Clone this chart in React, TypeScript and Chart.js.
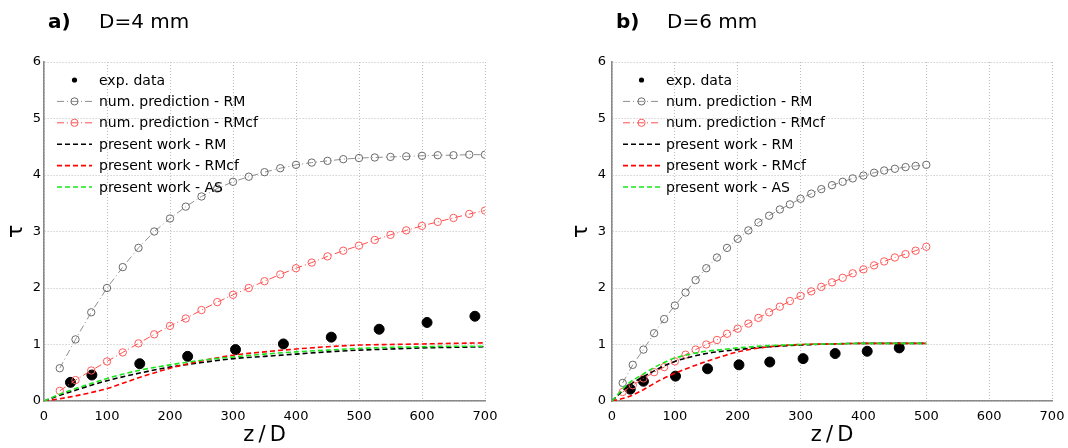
import React, { useEffect, useRef } from 'react';
import { Chart, registerables } from 'chart.js';

Chart.register(...registerables);

const FONT = "'DejaVu Sans', 'Verdana', sans-serif";

const LEGEND_LABELS = [
  'exp. data',
  'num. prediction - RM',
  'num. prediction - RMcf',
  'present work - RM',
  'present work - RMcf',
  'present work - AS',
];

const X_TICKS_MAX = 700;
const Y_TICKS_MAX = 6;

// ---------- Panel a) D=4 mm ----------
const A_EXP_X = [42, 76, 152, 228, 304, 380, 456, 532, 608, 684];
const A_EXP_Y = [0.33, 0.46, 0.66, 0.79, 0.91, 1.01, 1.13, 1.27, 1.39, 1.5];

const A_NUM_X = [25, 50, 75, 100, 125, 150, 175, 200, 225, 250, 275, 300, 325, 350, 375, 400, 425, 450, 475, 500, 525, 550, 575, 600, 625, 650, 675, 700];
const A_NUM_RM = [0.58, 1.09, 1.57, 2.0, 2.37, 2.71, 3.0, 3.23, 3.44, 3.62, 3.76, 3.88, 3.97, 4.05, 4.12, 4.18, 4.22, 4.25, 4.28, 4.3, 4.31, 4.32, 4.33, 4.34, 4.35, 4.35, 4.36, 4.36];
const A_NUM_RMCF = [0.18, 0.37, 0.54, 0.7, 0.86, 1.02, 1.18, 1.33, 1.46, 1.61, 1.75, 1.88, 2.0, 2.12, 2.24, 2.35, 2.45, 2.56, 2.66, 2.75, 2.85, 2.94, 3.02, 3.1, 3.17, 3.24, 3.31, 3.37];

const A_PW_X = [0, 25, 50, 75, 100, 150, 200, 250, 300, 350, 400, 450, 500, 550, 600, 650, 700];
const A_PW_RM = [0, 0.1, 0.19, 0.28, 0.36, 0.49, 0.6, 0.68, 0.75, 0.79, 0.83, 0.87, 0.9, 0.92, 0.94, 0.95, 0.96];
const A_PW_RMCF = [0, 0.04, 0.09, 0.15, 0.22, 0.41, 0.58, 0.71, 0.81, 0.87, 0.92, 0.96, 0.99, 1.0, 1.01, 1.02, 1.03];
const A_PW_AS = [0, 0.12, 0.22, 0.31, 0.4, 0.54, 0.64, 0.72, 0.78, 0.83, 0.87, 0.9, 0.93, 0.95, 0.96, 0.97, 0.97];

// ---------- Panel b) D=6 mm ----------
const B_EXP_X = [29, 50, 101, 152, 202, 251, 304, 355, 406, 457];
const B_EXP_Y = [0.21, 0.35, 0.44, 0.57, 0.64, 0.69, 0.75, 0.84, 0.88, 0.94];

const B_NUM_X = [17, 33, 50, 67, 83, 100, 117, 133, 150, 167, 183, 200, 217, 233, 250, 267, 283, 300, 317, 333, 350, 367, 383, 400, 417, 433, 450, 467, 483, 500];
const B_NUM_RM = [0.32, 0.64, 0.91, 1.2, 1.45, 1.69, 1.92, 2.14, 2.35, 2.54, 2.71, 2.87, 3.02, 3.16, 3.28, 3.39, 3.48, 3.58, 3.67, 3.75, 3.82, 3.88, 3.94, 3.99, 4.04, 4.08, 4.11, 4.14, 4.16, 4.18];
const B_NUM_RMCF = [0.16, 0.28, 0.4, 0.51, 0.6, 0.7, 0.82, 0.91, 1.0, 1.08, 1.19, 1.28, 1.37, 1.47, 1.57, 1.67, 1.77, 1.86, 1.94, 2.02, 2.1, 2.18, 2.26, 2.33, 2.4, 2.47, 2.54, 2.6, 2.66, 2.73];

const B_PW_X = [0, 25, 50, 75, 100, 125, 150, 175, 200, 250, 300, 350, 400, 450, 500];
const B_PW_RM = [0, 0.26, 0.43, 0.58, 0.7, 0.78, 0.84, 0.88, 0.91, 0.96, 0.99, 1.01, 1.02, 1.02, 1.02];
const B_PW_RMCF = [0, 0.07, 0.2, 0.36, 0.49, 0.6, 0.7, 0.79, 0.87, 0.96, 1.0, 1.01, 1.02, 1.02, 1.02];
const B_PW_AS = [0, 0.3, 0.48, 0.64, 0.76, 0.83, 0.88, 0.91, 0.94, 0.98, 1.0, 1.01, 1.02, 1.02, 1.02];

const zip = (xs: number[], ys: number[]) => xs.map((x, i) => ({ x, y: ys[i] }));

type PanelData = {
  expX: number[]; expY: number[];
  numX: number[]; numRM: number[]; numRMcf: number[];
  pwX: number[]; pwRM: number[]; pwRMcf: number[]; pwAS: number[];
};

type PanelLayout = {
  left: number; width: number; yWidth: number; padRight: number;
  yTickPad: number; tauPad: number;
  label: string; title: string;
  symX0: number; symX1: number; textX: number;
};

function buildDatasets(d: PanelData): any[] {
  return [
    {
      data: zip(d.expX, d.expY), showLine: false, order: 6,
      pointRadius: 5, pointStyle: 'circle', pointBackgroundColor: '#000', pointBorderColor: '#000',
      pointBorderWidth: 1, borderColor: '#000', _legendDot: 2.6,
    },
    {
      data: zip(d.numX, d.numRM), order: 5,
      borderColor: '#8f8f8f', borderWidth: 1, borderDash: [7, 3, 1, 3],
      pointRadius: 3.7, pointBorderColor: '#6a6a6a', pointBackgroundColor: 'rgba(0,0,0,0)', pointBorderWidth: 1,
      _legendCircle: 3.6,
    },
    {
      data: zip(d.numX, d.numRMcf), order: 4,
      borderColor: '#ff4d4d', borderWidth: 1, borderDash: [7, 3, 1, 3],
      pointRadius: 3.7, pointBorderColor: '#ff5a5a', pointBackgroundColor: 'rgba(0,0,0,0)', pointBorderWidth: 1,
      _legendCircle: 3.6,
    },
    {
      data: zip(d.pwX, d.pwRM), order: 3, borderColor: '#000', borderWidth: 1.6, borderDash: [5, 3],
      pointRadius: 0, cubicInterpolationMode: 'monotone',
    },
    {
      data: zip(d.pwX, d.pwRMcf), order: 2, borderColor: '#ff0000', borderWidth: 1.6, borderDash: [5, 3],
      pointRadius: 0, cubicInterpolationMode: 'monotone',
    },
    {
      data: zip(d.pwX, d.pwAS), order: 1, borderColor: '#19e619', borderWidth: 1.6, borderDash: [5, 3],
      pointRadius: 0, cubicInterpolationMode: 'monotone',
    },
  ];
}

function makePlugins(L: PanelLayout) {
  return [
    {
      id: 'panelDecor',
      afterDraw(chart: any) {
        const { ctx, chartArea } = chart;
        ctx.save();
        // title
        ctx.fillStyle = '#000';
        ctx.textBaseline = 'alphabetic';
        ctx.textAlign = 'left';
        ctx.font = `bold 20px ${FONT}`;
        ctx.fillText(L.label, chartArea.left + 4, 28);
        ctx.font = `20px ${FONT}`;
        ctx.fillText(L.title, chartArea.left + 55, 28);
        // legend
        const x0 = chartArea.left + L.symX0;
        const x1 = chartArea.left + L.symX1;
        const xm = (x0 + x1) / 2;
        chart.data.datasets.forEach((ds: any, i: number) => {
          const y = chartArea.top + 18 + i * 21.4;
          if (ds.showLine !== false) {
            ctx.save();
            ctx.strokeStyle = ds.borderColor;
            ctx.lineWidth = ds.borderWidth;
            ctx.setLineDash(ds.borderDash || []);
            ctx.beginPath();
            ctx.moveTo(x0, y);
            ctx.lineTo(x1, y);
            ctx.stroke();
            ctx.restore();
          }
          if (ds._legendDot) {
            ctx.beginPath();
            ctx.fillStyle = ds.pointBackgroundColor;
            ctx.arc(xm, y, ds._legendDot, 0, Math.PI * 2);
            ctx.fill();
          }
          if (ds._legendCircle) {
            ctx.beginPath();
            ctx.setLineDash([]);
            ctx.lineWidth = 1;
            ctx.strokeStyle = ds.pointBorderColor;
            ctx.arc(xm, y, ds._legendCircle, 0, Math.PI * 2);
            ctx.stroke();
          }
          ctx.fillStyle = '#000';
          ctx.font = `14px ${FONT}`;
          ctx.textBaseline = 'middle';
          ctx.textAlign = 'left';
          ctx.fillText(LEGEND_LABELS[i], chartArea.left + L.textX, y + 1);
        });
        ctx.restore();
      },
    },
  ];
}

function Panel({ data, layout }: { data: PanelData; layout: PanelLayout }) {
  const ref = useRef<HTMLCanvasElement | null>(null);
  useEffect(() => {
    if (!ref.current) return;
    const chart = new Chart(ref.current, {
      type: 'line',
      data: { datasets: buildDatasets(data) },
      plugins: makePlugins(layout) as any,
      options: {
        responsive: false,
        animation: false,
        events: [],
        layout: { padding: { left: 0, right: layout.padRight, top: 62, bottom: 0 } },
        plugins: { legend: { display: false }, tooltip: { enabled: false }, title: { display: false } },
        scales: {
          x: {
            type: 'linear', min: 0, max: X_TICKS_MAX,
            ticks: { stepSize: 100, padding: 3, color: '#000', font: { size: 13, family: FONT }, maxRotation: 0, autoSkip: false },
            grid: { color: '#bcbcbc', lineWidth: 1, drawTicks: true, tickLength: 5, tickColor: 'rgba(0,0,0,0)' },
            border: { display: true, color: '#8a8a8a', width: 1.6, dash: [1, 2] },
            title: { display: true, text: 'z\u2009/\u2009D', color: '#000', font: { size: 21, family: FONT }, padding: { top: 0, bottom: 0 } },
            afterFit: (s: any) => { s.height = 47; },
          },
          y: {
            type: 'linear', min: 0, max: Y_TICKS_MAX,
            ticks: { stepSize: 1, padding: layout.yTickPad, color: '#000', font: { size: 13, family: FONT } },
            grid: { color: '#bcbcbc', lineWidth: 1, drawTicks: false },
            border: { display: true, color: '#8a8a8a', width: 1.6, dash: [1, 2] },
            title: { display: true, text: 'τ', color: '#000', font: { size: 22, family: FONT }, padding: { top: layout.tauPad, bottom: 0 } },
            afterFit: (s: any) => { s.width = layout.yWidth; },
          },
        },
      } as any,
    });
    return () => chart.destroy();
  }, []);
  return (
    <canvas
      ref={ref}
      width={layout.width}
      height={448}
      style={{ position: 'absolute', left: layout.left, top: 0, width: layout.width, height: 448 }}
    />
  );
}

const PANEL_A: PanelData = {
  expX: A_EXP_X, expY: A_EXP_Y, numX: A_NUM_X, numRM: A_NUM_RM, numRMcf: A_NUM_RMCF,
  pwX: A_PW_X, pwRM: A_PW_RM, pwRMcf: A_PW_RMCF, pwAS: A_PW_AS,
};
const PANEL_B: PanelData = {
  expX: B_EXP_X, expY: B_EXP_Y, numX: B_NUM_X, numRM: B_NUM_RM, numRMcf: B_NUM_RMCF,
  pwX: B_PW_X, pwRM: B_PW_RM, pwRMcf: B_PW_RMCF, pwAS: B_PW_AS,
};

const LAYOUT_A: PanelLayout = {
  left: 0, width: 534, yWidth: 44, padRight: 49, yTickPad: 3, tauPad: 3,
  label: 'a)', title: 'D=4 mm', symX0: 13, symX1: 48, textX: 55,
};
const LAYOUT_B: PanelLayout = {
  left: 534, width: 534, yWidth: 78, padRight: 16, yTickPad: 6, tauPad: 34,
  label: 'b)', title: 'D=6 mm', symX0: 11, symX1: 48, textX: 54,
};

export default function App() {
  return (
    <div style={{ position: 'absolute', left: 0, top: 0, width: 1068, height: 448, background: '#fff' }}>
      <Panel data={PANEL_A} layout={LAYOUT_A} />
      <Panel data={PANEL_B} layout={LAYOUT_B} />
    </div>
  );
}
